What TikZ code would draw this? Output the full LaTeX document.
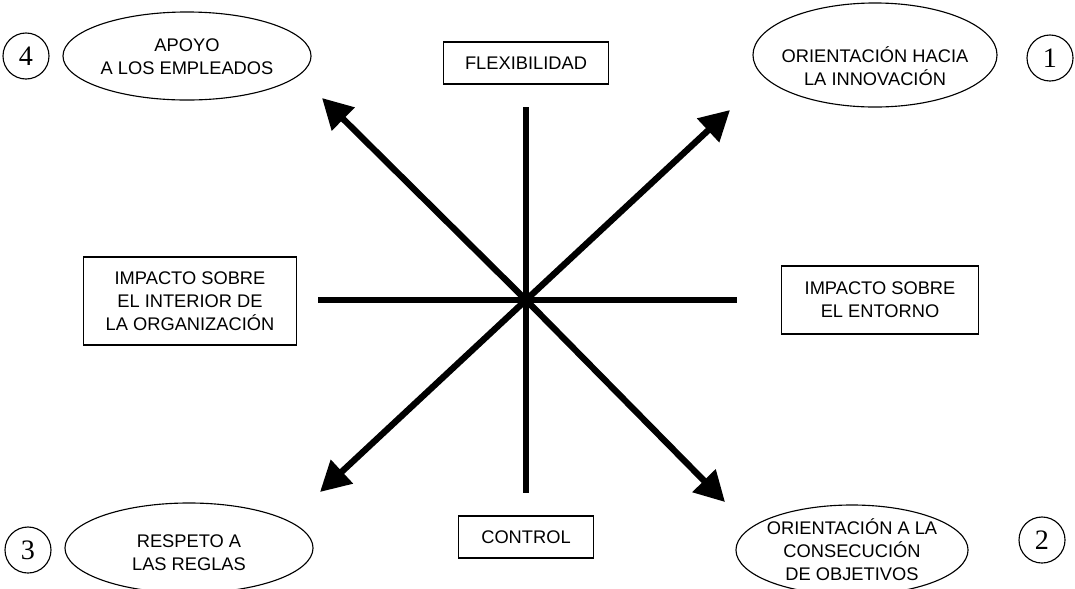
\documentclass[tikz,border=0pt]{standalone}
\usepackage{fontspec}
\setmainfont{Liberation Sans}
\newfontfamily\numfont{Liberation Serif}
\usetikzlibrary{shapes.geometric, arrows.meta}
\tikzstyle{oval} = [ellipse, draw=black, line width=0.8pt, inner sep=0pt]
\tikzstyle{txt} = [align=center, font=\fontsize{13}{16.3}\selectfont]
\tikzstyle{axisbox} = [rectangle, draw=black, line width=0.9pt, text centered, align=center, font=\fontsize{13}{16.3}\selectfont]
\tikzstyle{numcircle} = [circle, draw=black, line width=0.8pt, minimum size=1.15cm, inner sep=0pt, font=\numfont\fontsize{20}{20}\selectfont]
\tikzstyle{axisline} = [line width=4.5pt]
\tikzstyle{arrow} = [line width=4.5pt, -{Triangle[length=0.75cm, width=0.78cm]}]

\begin{document}
\begin{tikzpicture}[x=0.025cm, y=-0.025cm]
\useasboundingbox (0,0) rectangle (1075,588);

\coordinate (o) at (526, 300);
\coordinate (top) at (526, 107);
\coordinate (bottom) at (526, 493);
\coordinate (left) at (318, 300);
\coordinate (right) at (737, 300);
\coordinate (tipnw) at (322, 98);
\coordinate (tipne) at (730, 110);
\coordinate (tipsw) at (320, 492);
\coordinate (tipse) at (725, 502);

\node at (526, 63) (flex) [axisbox, minimum width=4.125cm, minimum height=1.05cm] {FLEXIBILIDAD};
\node at (526, 537) (control) [axisbox, minimum width=3.375cm, minimum height=1.05cm] {CONTROL};
\node at (190, 301) (inner) [axisbox, minimum width=5.325cm, minimum height=2.2cm] {IMPACTO SOBRE\\EL INTERIOR DE\\LA ORGANIZACIÓN};
\node at (880, 300) (outer) [axisbox, minimum width=4.925cm, minimum height=1.7cm] {IMPACTO SOBRE\\EL ENTORNO};

\node at (187, 56) (support) [oval, minimum width=6.2cm, minimum height=2.2cm] {};
\node at (187, 57) (supporttxt) [txt] {APOYO\\A LOS EMPLEADOS};
\node at (875, 55) (innovation) [oval, minimum width=6.1cm, minimum height=2.6cm] {};
\node at (875, 66) (innovationtxt) [txt] {ORIENTACIÓN HACIA\\LA INNOVACIÓN};
\node at (189, 548) (rules) [oval, minimum width=6.2cm, minimum height=2.25cm] {};
\node at (189, 553) (rulestxt) [txt] {RESPETO A\\LAS REGLAS};
\node at (852, 550) (goals) [oval, minimum width=5.8cm, minimum height=2.25cm] {};
\node at (852, 550) (goalstxt) [txt] {ORIENTACIÓN A LA\\CONSECUCIÓN\\DE OBJETIVOS};

\node at (26, 56) (n4) [numcircle] {4};
\node at (1050, 58) (n1) [numcircle] {1};
\node at (28, 550) (n3) [numcircle] {3};
\node at (1042, 540) (n2) [numcircle] {2};

\draw [axisline] (top) -- (bottom);
\draw [axisline] (left) -- (right);

\draw [arrow] (o) -- (tipnw);
\draw [arrow] (o) -- (tipne);
\draw [arrow] (o) -- (tipsw);
\draw [arrow] (o) -- (tipse);

\end{tikzpicture}
\end{document}
